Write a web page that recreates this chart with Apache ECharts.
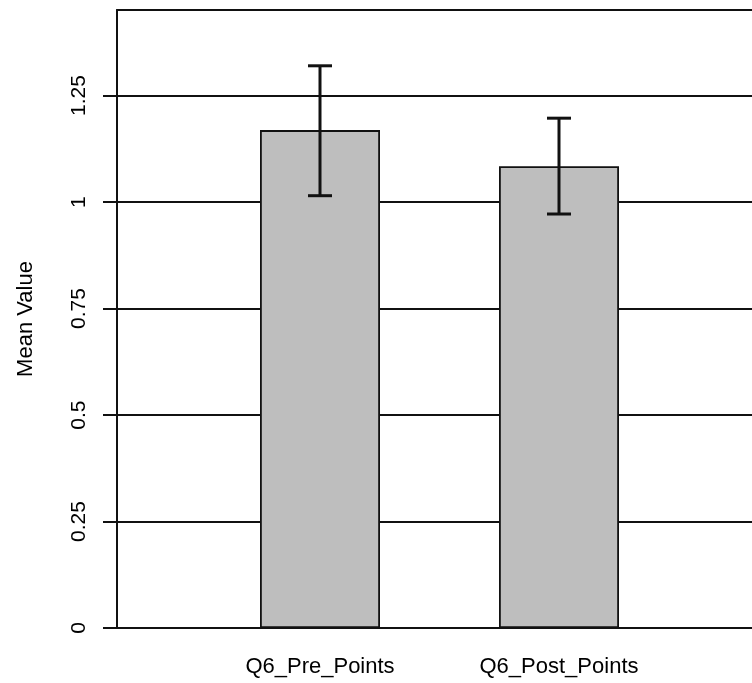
<!DOCTYPE html>
<html>
<head>
<meta charset="utf-8">
<script src="https://cdn.jsdelivr.net/npm/echarts@6/dist/echarts.min.js"></script>
<style>
  html, body { margin: 0; padding: 0; background: #ffffff; }
  #chart { width: 752px; height: 683px; }
</style>
</head>
<body>
<div id="chart"></div>
<script>
// Mean values with error bar limits per question
const categories = ['Q6_Pre_Points', 'Q6_Post_Points'];
const meanValues = [1.169, 1.084];
const errLow = [1.015, 0.972];
const errHigh = [1.320, 1.197];
const tickValues = [0, 0.25, 0.5, 0.75, 1, 1.25];
const yMax = 1.451;

const FONT = '"Liberation Sans", Arial, Helvetica, sans-serif';
const INK = '#111111';

const chart = echarts.init(document.getElementById('chart'), null, { renderer: 'canvas' });

const errorData = categories.map((c, i) => [i, errLow[i], errHigh[i]]);

chart.setOption({
  animation: false,
  backgroundColor: '#ffffff',
  grid: [
    // frame grid: box, y axis, reference lines
    { left: 117, top: 10, bottom: 55, right: -30, containLabel: false },
    // bar grid: positions the two bars
    { left: 200.5, right: 73.5, top: 10, bottom: 55, containLabel: false }
  ],
  xAxis: [
    {
      gridIndex: 0, type: 'value', min: 0, max: 1, position: 'bottom',
      axisLine: { show: true, onZero: false, lineStyle: { color: INK, width: 2 } },
      axisTick: { show: false }, axisLabel: { show: false }, splitLine: { show: false }
    },
    {
      gridIndex: 0, type: 'value', min: 0, max: 1, position: 'top',
      axisLine: { show: true, onZero: false, lineStyle: { color: INK, width: 2 } },
      axisTick: { show: false }, axisLabel: { show: false }, splitLine: { show: false }
    },
    {
      gridIndex: 1, type: 'category', data: categories, position: 'bottom',
      axisLine: { show: false }, axisTick: { show: false }, splitLine: { show: false },
      axisLabel: { color: '#000', fontFamily: FONT, fontSize: 22, margin: 28, interval: 0 }
    }
  ],
  yAxis: [
    {
      gridIndex: 0, type: 'value', min: 0, max: yMax, interval: 0.25,
      name: 'Mean Value', nameLocation: 'middle', nameGap: 80, nameRotate: 90,
      nameTextStyle: { color: '#000', fontFamily: FONT, fontSize: 22 },
      axisLine: { show: true, lineStyle: { color: INK, width: 2 } },
      axisTick: { show: true, length: 14, customValues: tickValues, lineStyle: { color: INK, width: 2 } },
      axisLabel: { show: true, customValues: tickValues, rotate: 90, margin: 27, color: '#000', fontFamily: FONT, fontSize: 21 },
      splitLine: { show: true, lineStyle: { color: INK, width: 2 } }
    },
    {
      gridIndex: 1, type: 'value', min: 0, max: yMax,
      axisLine: { show: false }, axisTick: { show: false }, axisLabel: { show: false }, splitLine: { show: false }
    }
  ],
  series: [
    {
      type: 'bar',
      xAxisIndex: 2, yAxisIndex: 1,
      data: meanValues,
      barWidth: 120,
      itemStyle: { color: '#bebebe', borderColor: INK, borderWidth: 1.8 },
      z: 3
    },
    {
      type: 'custom',
      xAxisIndex: 2, yAxisIndex: 1,
      data: errorData,
      z: 4,
      renderItem: function (params, api) {
        const x = api.value(0);
        const lo = api.coord([x, api.value(1)]);
        const hi = api.coord([x, api.value(2)]);
        const half = 12;
        const style = { stroke: INK, lineWidth: 3 };
        return {
          type: 'group',
          children: [
            { type: 'line', shape: { x1: hi[0], y1: hi[1], x2: lo[0], y2: lo[1] }, style: style },
            { type: 'line', shape: { x1: hi[0] - half, y1: hi[1], x2: hi[0] + half, y2: hi[1] }, style: style },
            { type: 'line', shape: { x1: lo[0] - half, y1: lo[1], x2: lo[0] + half, y2: lo[1] }, style: style }
          ]
        };
      }
    }
  ]
});
</script>
</body>
</html>
